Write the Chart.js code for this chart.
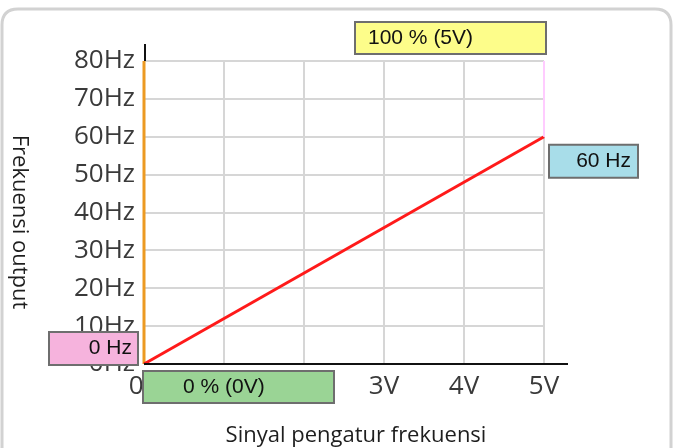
<!DOCTYPE html>
<html>
<head>
<meta charset="utf-8">
<script src="https://cdn.jsdelivr.net/npm/chart.js@4/dist/chart.umd.min.js"></script>
<style>
  html, body { margin: 0; padding: 0; background: #ffffff; }
  #wrap { width: 676px; height: 448px; position: relative; }
</style>
</head>
<body>
<div id="wrap"><canvas id="c" width="676" height="448"></canvas></div>
<script>
// ---- data ----
const signalVolts = [0, 5];          // x: control signal (V)
const outputFreq = [0, 60];          // y: output frequency (Hz)
const minMarkerX = [0, 0];           // orange vertical marker at 0 V
const minMarkerY = [0, 80];
const maxMarkerX = [5, 5];           // pink vertical marker at 5 V
const maxMarkerY = [60, 80];
const xTickLabels = ['0V', '1V', '2V', '3V', '4V', '5V'];
const yTickLabels = ['0Hz', '10Hz', '20Hz', '30Hz', '40Hz', '50Hz', '60Hz', '70Hz', '80Hz'];
const xTitle = 'Sinyal pengatur frekuensi';
const yTitle = 'Frekuensi output';
const boxLabels = ['100 % (5V)', '60 Hz', '0 Hz', '0 % (0V)'];

function pts(xs, ys) { return xs.map((x, i) => ({ x: x, y: ys[i] })); }

const tickFont = { family: 'Open Sans', size: 26 };

function roundRect(ctx, x, y, w, h, r) {
  ctx.beginPath();
  ctx.moveTo(x + r, y);
  ctx.lineTo(x + w - r, y);
  ctx.quadraticCurveTo(x + w, y, x + w, y + r);
  ctx.lineTo(x + w, y + h - r);
  ctx.quadraticCurveTo(x + w, y + h, x + w - r, y + h);
  ctx.lineTo(x + r, y + h);
  ctx.quadraticCurveTo(x, y + h, x, y + h - r);
  ctx.lineTo(x, y + r);
  ctx.quadraticCurveTo(x, y, x + r, y);
  ctx.closePath();
}

function drawBox(ctx, x1, y1, x2, y2, fill, text, align, tx) {
  ctx.fillStyle = fill;
  ctx.fillRect(x1, y1, x2 - x1, y2 - y1);
  ctx.strokeStyle = '#6e6e6e';
  ctx.lineWidth = 2;
  ctx.strokeRect(x1, y1, x2 - x1, y2 - y1);
  ctx.fillStyle = '#111111';
  ctx.font = '21px "Liberation Sans"';
  ctx.textAlign = align;
  ctx.textBaseline = 'middle';
  ctx.fillText(text, tx, (y1 + y2) / 2);
}

const decor = {
  id: 'decor',
  beforeDraw(chart) {
    const ctx = chart.ctx;
    ctx.save();
    ctx.fillStyle = '#ffffff';
    ctx.fillRect(0, 0, chart.width, chart.height);
    ctx.strokeStyle = '#d2d2d2';
    ctx.lineWidth = 3;
    roundRect(ctx, 2, 9, 669, 460, 16);
    ctx.stroke();
    ctx.restore();
  },
  afterDraw(chart) {
    const ctx = chart.ctx;
    const xs = chart.scales.x, ys = chart.scales.y;
    const x0 = xs.getPixelForValue(0), x5 = xs.getPixelForValue(5);
    const y0 = ys.getPixelForValue(0), y60 = ys.getPixelForValue(60), y80 = ys.getPixelForValue(80);
    ctx.save();
    // axis lines
    ctx.strokeStyle = '#111111';
    ctx.lineWidth = 2;
    ctx.beginPath();
    ctx.moveTo(x0, y0);
    ctx.lineTo(x5 + 24, y0);
    ctx.stroke();
    ctx.beginPath();
    ctx.moveTo(x0 + 1, y80);
    ctx.lineTo(x0 + 1, y80 - 17);
    ctx.stroke();
    // axis titles
    ctx.fillStyle = '#1e1e1e';
    ctx.font = '22px "Open Sans"';
    ctx.textAlign = 'center';
    ctx.textBaseline = 'middle';
    ctx.fillText(xTitle, 356, 436);
    ctx.save();
    ctx.translate(19, 222);
    ctx.rotate(Math.PI / 2);
    ctx.fillText(yTitle, 0, 0);
    ctx.restore();
    // annotation boxes
    drawBox(ctx, x5 - 189, y80 - 39, x5 + 2, y80 - 7, '#fdfd8a', boxLabels[0], 'left', x5 - 176);
    drawBox(ctx, x5 + 5, y60 + 8, x5 + 94, y60 + 41, '#a8dde9', boxLabels[1], 'right', x5 + 87);
    drawBox(ctx, x0 - 95, y0 - 32, x0 - 6, y0 + 1, '#f6b3dd', boxLabels[2], 'right', x0 - 12);
    drawBox(ctx, x0 - 1, y0 + 7, x0 + 190, y0 + 39, '#9ad495', boxLabels[3], 'left', x0 + 39);
    ctx.restore();
  }
};

new Chart(document.getElementById('c'), {
  type: 'scatter',
  data: {
    datasets: [
      { data: pts(maxMarkerX, maxMarkerY), showLine: true, borderColor: '#ffccff', borderWidth: 2, pointRadius: 0, clip: false },
      { data: pts(signalVolts, outputFreq), showLine: true, borderColor: '#ff1a1a', borderWidth: 3, pointRadius: 0, clip: false },
      { data: pts(minMarkerX, minMarkerY), showLine: true, borderColor: '#ec9a22', borderWidth: 3, pointRadius: 0, clip: false }
    ]
  },
  options: {
    responsive: false,
    animation: false,
    layout: { padding: { left: 0, right: 132, top: 61, bottom: 0 } },
    plugins: { legend: { display: false }, tooltip: { enabled: false } },
    scales: {
      x: {
        type: 'linear', min: 0, max: 5,
        afterFit(s) { s.height = 84; },
        grid: { color: '#d6d6d6', lineWidth: 2, drawTicks: false },
        border: { display: false },
        ticks: {
          stepSize: 1, padding: 7, color: '#3a3a3a', font: tickFont, maxRotation: 0,
          callback: (v) => xTickLabels[Math.round(v)]
        }
      },
      y: {
        type: 'linear', min: 0, max: 80,
        afterFit(s) { s.width = 144; },
        grid: { color: '#d6d6d6', lineWidth: 2, drawTicks: false },
        border: { display: false },
        ticks: {
          stepSize: 10, padding: 9, color: '#3a3a3a', font: tickFont,
          callback: (v) => yTickLabels[Math.round(v / 10)]
        }
      }
    }
  },
  plugins: [decor]
});
</script>
</body>
</html>
